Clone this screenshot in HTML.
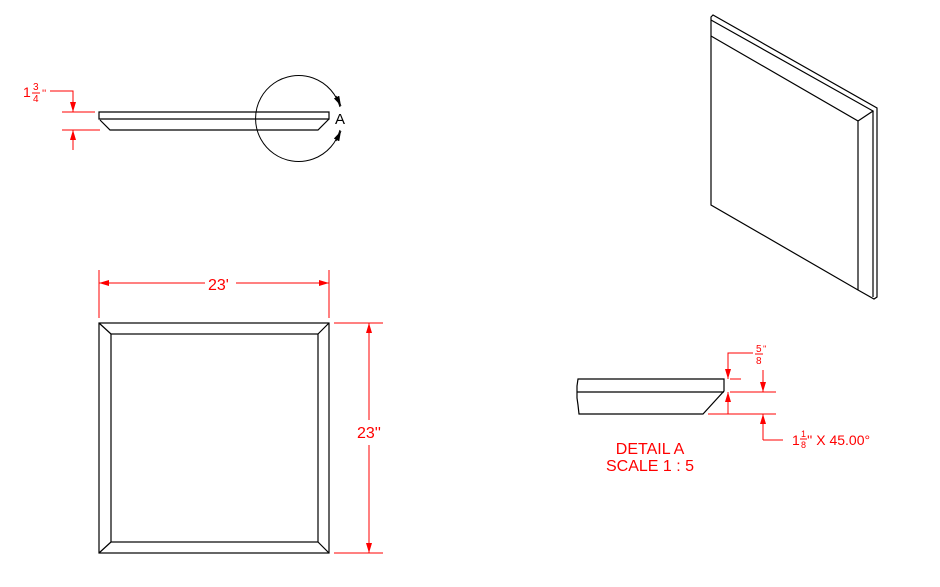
<!DOCTYPE html>
<html><head><style>
html,body{margin:0;padding:0;background:#fff;}
svg{display:block;}
text{font-family:"Liberation Sans",sans-serif;fill:#f00;}
</style></head><body>
<svg width="940" height="587" viewBox="0 0 940 587" xmlns="http://www.w3.org/2000/svg">
<defs>
<marker id="ar" markerWidth="10" markerHeight="6" refX="10" refY="3" orient="auto" markerUnits="userSpaceOnUse"><path d="M0,0 L10,3 L0,6 z" fill="#f00"/></marker>
<marker id="ak" markerWidth="10" markerHeight="6" refX="10" refY="3" orient="auto" markerUnits="userSpaceOnUse"><path d="M0,0 L10,3 L0,6 z" fill="#000"/></marker>
</defs>
<g fill="none" stroke="#000" stroke-width="1.2">
<path d="M99,112 H329 V119 H99 Z"/>
<path d="M100,120 L110,130 H318 L329,119"/>
<path d="M340,107 A43,43 0 1 0 340,130" stroke-width="1"/>
<rect x="99" y="323" width="230" height="230"/>
<rect x="111" y="334" width="207" height="208"/>
<path d="M99,323 L111,334 M329,323 L318,334 M99,553 L111,542 M329,553 L318,542"/>
<path d="M711,17 L713,15 L877,108 L877,297 L874,299 L858,290 L711,205 Z"/>
<path d="M711,20 L873,111 L858,121 M711,36 L858,121 L858,290 M873,111 L873,297"/>
<path d="M578,379 H724 V391 L703,414 H579 L578,405 L577,398 L577,386 Z"/>
<path d="M577,392 H724"/>
</g>
<path d="M336,96 L341,106" stroke="#000" marker-end="url(#ak)"/>
<path d="M336,141 L341,131" stroke="#000" marker-end="url(#ak)"/>
<text x="335" y="124" font-size="15" style="fill:#000">A</text>
<g stroke="#f00" stroke-width="1" fill="none">
<path d="M50,91 H73 V112" marker-end="url(#ar)"/>
<path d="M62,112 H95 M62,130 H100"/>
<path d="M73,150 V130" marker-end="url(#ar)"/>
<path d="M99,270 V318 M329,270 V318"/>
<path d="M205,283 H99" marker-end="url(#ar)"/>
<path d="M236,283 H329" marker-end="url(#ar)"/>
<path d="M334,323 H383 M334,553 H383"/>
<path d="M369,420 V323" marker-end="url(#ar)"/>
<path d="M369,445 V553" marker-end="url(#ar)"/>
<path d="M753,353 H728 V379" marker-end="url(#ar)"/>
<path d="M730,379 H741"/>
<path d="M728,414 V392" marker-end="url(#ar)"/>
<path d="M730,392 H776 M708,414 H776"/>
<path d="M763,370 V392" marker-end="url(#ar)"/>
<path d="M763,440 V414" marker-end="url(#ar)"/>
<path d="M763,440 H783"/>
</g>
<text x="23" y="97" font-size="14">1</text>
<text x="33" y="90" font-size="10">3</text>
<path d="M32,93 H40" stroke="#f00"/>
<text x="33" y="102" font-size="10">4</text>
<text x="42" y="97" font-size="11">''</text>
<text x="208" y="290" font-size="16">23'</text>
<text x="357" y="438" font-size="16">23''</text>
<text x="756" y="352" font-size="10">5</text>
<path d="M755,354 H763" stroke="#f00"/>
<text x="756" y="364" font-size="10">8</text>
<text x="763" y="352" font-size="9">''</text>
<text x="792" y="445" font-size="14">1</text>
<text x="801" y="437" font-size="9">1</text>
<path d="M800,439 H807" stroke="#f00"/>
<text x="801" y="448" font-size="9">8</text>
<text x="807" y="445" font-size="14">'' X 45.00°</text>
<text x="650" y="454" font-size="16" text-anchor="middle">DETAIL A</text>
<text x="650" y="471" font-size="16" text-anchor="middle">SCALE 1 : 5</text>
</svg>
</body></html>
